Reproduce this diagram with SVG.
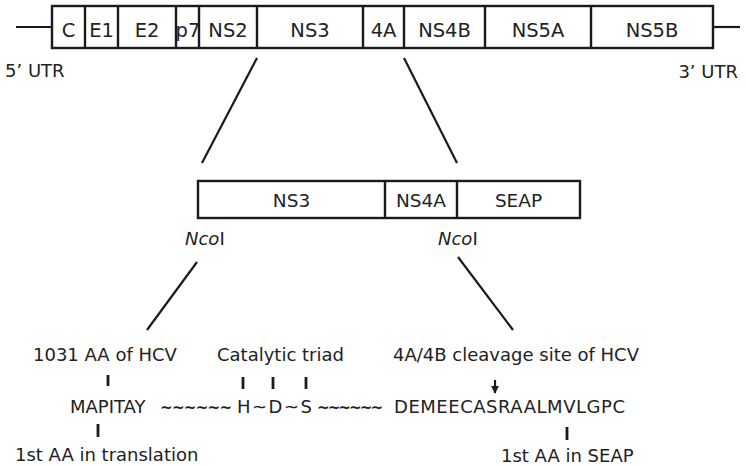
<svg xmlns="http://www.w3.org/2000/svg" width="746" height="466" viewBox="0 0 746 466">
<style>
.box{fill:#fff;stroke:#1a1a1a;stroke-width:2.4}
.div{stroke:#1a1a1a;stroke-width:2.4}
.ln{stroke:#1a1a1a;stroke-width:2.2;fill:none}
.tk{stroke:#1a1a1a;stroke-width:2.8}
text{font-family:"DejaVu Sans","Liberation Sans",sans-serif;fill:#222}
.t19{font-size:19.5px;text-anchor:middle}
.t18m{font-size:18.5px;text-anchor:middle}
.t18{font-size:18px}
.tl{font-size:15px;font-weight:bold}
</style>
<defs>
<marker id="ah" viewBox="0 0 10 10" refX="9" refY="5" markerWidth="8" markerHeight="8" orient="auto" markerUnits="userSpaceOnUse">
<path d="M0,0 L10,5 L0,10 Z" fill="#1a1a1a"/>
</marker>
</defs>
<g id="genome">
<line class="ln" x1="16" y1="27" x2="52" y2="27"/>
<line class="ln" x1="713" y1="27" x2="740" y2="27"/>
<rect class="box" x="52" y="6" width="661" height="42"/>
<line class="div" x1="85" y1="6" x2="85" y2="48"/>
<line class="div" x1="118" y1="6" x2="118" y2="48"/>
<line class="div" x1="176" y1="6" x2="176" y2="48"/>
<line class="div" x1="199" y1="6" x2="199" y2="48"/>
<line class="div" x1="257" y1="6" x2="257" y2="48"/>
<line class="div" x1="363" y1="6" x2="363" y2="48"/>
<line class="div" x1="404" y1="6" x2="404" y2="48"/>
<line class="div" x1="485" y1="6" x2="485" y2="48"/>
<line class="div" x1="591" y1="6" x2="591" y2="48"/>
<text class="t19" x="68.5" y="37">C</text>
<text class="t19" x="101.5" y="37">E1</text>
<text class="t19" x="147" y="37">E2</text>
<text class="t19" x="188" y="37">p7</text>
<text class="t19" x="228" y="37">NS2</text>
<text class="t19" x="310" y="37">NS3</text>
<text class="t19" x="383.5" y="37">4A</text>
<text class="t19" x="444.5" y="37">NS4B</text>
<text class="t19" x="538" y="37">NS5A</text>
<text class="t19" x="652" y="37">NS5B</text>
<text class="t18" x="5" y="77">5’ UTR</text>
<text class="t18" x="738" y="78" text-anchor="end">3’ UTR</text>
</g>
<g id="construct">
<rect class="box" x="198" y="181" width="382" height="37"/>
<line class="div" x1="385" y1="181" x2="385" y2="218"/>
<line class="div" x1="457" y1="181" x2="457" y2="218"/>
<text class="t18m" x="291.5" y="207">NS3</text>
<text class="t18m" x="421" y="207">NS4A</text>
<text class="t18m" x="518.5" y="207">SEAP</text>
<text class="t18" x="185" y="245"><tspan font-style="italic">Nco</tspan>I</text>
<text class="t18" x="438" y="245"><tspan font-style="italic">Nco</tspan>I</text>
</g>
<g id="connectors">
<line class="ln" x1="257" y1="58" x2="202" y2="163"/>
<line class="ln" x1="404" y1="58" x2="457" y2="163"/>
<line class="ln" x1="197" y1="262" x2="147" y2="330"/>
<line class="ln" x1="458" y1="257" x2="513" y2="330"/>
</g>
<g id="sequence">
<text class="t18" x="33" y="361">1031 AA of HCV</text>
<text class="t18" x="217" y="361">Catalytic triad</text>
<text class="t18" x="393" y="361">4A/4B cleavage site of HCV</text>
<line class="tk" x1="108" y1="375" x2="108" y2="386"/>
<line class="tk" x1="243" y1="377" x2="243" y2="389"/>
<line class="tk" x1="273" y1="377" x2="273" y2="389"/>
<line class="tk" x1="306" y1="377" x2="306" y2="389"/>
<line class="ln" x1="495" y1="380" x2="495" y2="393" marker-end="url(#ah)"/>
<text class="t18" y="413"><tspan x="70">MAPITAY</tspan><tspan x="160" class="tl" textLength="72">~~~~~~</tspan><tspan x="237" textLength="75">H~D~S</tspan><tspan x="317" class="tl" textLength="66">~~~~~~</tspan><tspan x="394" textLength="231">DEMEECASRAALMVLGPC</tspan></text>
<line class="tk" x1="98" y1="424" x2="98" y2="437"/>
<line class="tk" x1="567" y1="427" x2="567" y2="440"/>
<text class="t18" x="15" y="461">1st AA in translation</text>
<text class="t18" x="501" y="462">1st AA in SEAP</text>
</g>
</svg>
